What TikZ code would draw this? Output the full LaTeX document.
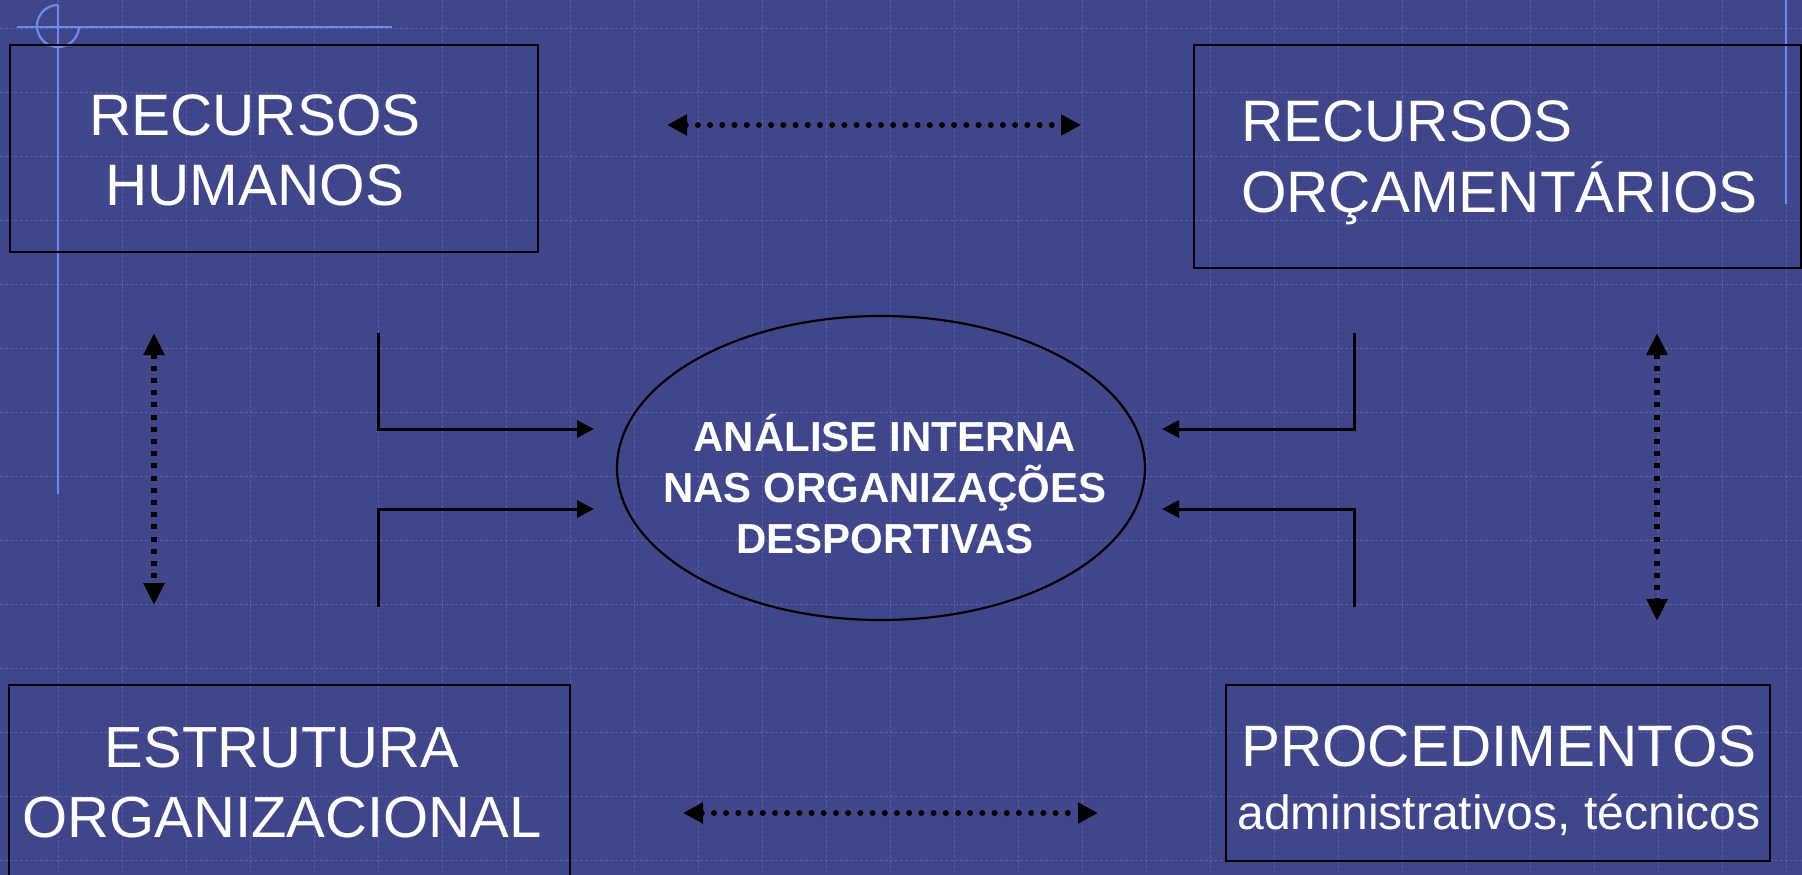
\documentclass[tikz,border=0pt]{standalone}
\usepackage{fontspec}
\setmainfont{Liberation Sans}
\usetikzlibrary{arrows.meta,shapes.geometric}
\definecolor{bgc}{HTML}{41468B}
\definecolor{gridc}{HTML}{575FB3}
\definecolor{decoc}{HTML}{6A8CF0}
\begin{document}
\begin{tikzpicture}[x=1pt,y=-1pt,
  gridline/.style={draw=gridc,line width=0.9pt,dash pattern=on 3pt off 2pt},
  decoline/.style={draw=decoc,line width=2.2pt},
  boxnode/.style={draw=black,line width=2.5pt,rectangle,inner sep=0pt},
  bigtxt/.style={text=white,inner sep=0pt,font=\fontsize{58.5}{68}\selectfont},
  conn/.style={draw=black,line width=3pt,-{Triangle[length=17pt,width=17pt]}},
  hdots/.style={draw=black,line width=6pt,line cap=round,dash pattern=on 0pt off 12.2pt,
     {Triangle[length=20pt,width=20pt]}-{Triangle[length=20pt,width=20pt]}},
  vdots/.style={draw=black,line width=6pt,dash pattern=on 5pt off 7.2pt,
     {Triangle[length=22pt,width=20pt]}-{Triangle[length=22pt,width=20pt]}}
]
\useasboundingbox (0,0) rectangle (1802,875);
\begin{scope}
\clip (0,0) rectangle (1802,875);
\fill[bgc] (0,0) rectangle (1802,875);
% grid
\foreach \gx in {58,122,...,1802} \draw[gridline] (\gx,0) -- (\gx,875);
\foreach \gy in {28,92,...,875} \draw[gridline] (0,\gy) -- (1802,\gy);
% decoration
\draw[decoline] (17,27) -- (392,27);
\draw[decoline] (58,5) -- (58,494);
\draw[decoline] (58,5) arc[start angle=270,end angle=0,radius=21];
\draw[decoline] (1786,0) -- (1786,204);

% boxes
\node[boxnode,minimum width=528pt,minimum height=207pt] (rh) at (274,148.5) {};
\node[bigtxt,align=center,font=\fontsize{58.5}{70}\selectfont] (rht) at (255,150) {RECURSOS\\HUMANOS};

\node[boxnode,minimum width=607pt,minimum height=223pt] (ro) at (1497.5,156.5) {};
\node[bigtxt,align=left,anchor=west,font=\fontsize{58.5}{71}\selectfont] (rot) at (1241,163) {RECURSOS\\ORÇAMENTÁRIOS};

\node[boxnode,minimum width=561pt,minimum height=200pt] (eo) at (289.5,785) {};
\node[bigtxt,align=center,font=\fontsize{58}{70}\selectfont] (eot) at (282,783) {ESTRUTURA\\ORGANIZACIONAL};

\node[boxnode,minimum width=544pt,minimum height=176pt] (pr) at (1498,773) {};
\node[text=white,inner sep=0pt,align=center,font=\fontsize{48}{63}\selectfont] (prt) at (1499,781)
  {{\fontsize{58.5}{63}\selectfont PROCEDIMENTOS}\\administrativos, técnicos};

% ellipse
\node[draw=black,line width=2.2pt,ellipse,minimum width=528pt,minimum height=304pt,inner sep=0pt] (an) at (881,468) {};
\node[text=white,inner sep=0pt,align=center,font=\fontsize{42}{51}\selectfont\bfseries] (ant) at (885,484)
  {ANÁLISE INTERNA\\NAS ORGANIZAÇÕES\\DESPORTIVAS};

% coordinates
\coordinate (ht1) at (667,125);  \coordinate (ht2) at (1081,125);
\coordinate (hb1) at (683,813);  \coordinate (hb2) at (1098,813);
\coordinate (vl1) at (154,333);  \coordinate (vl2) at (154,605);
\coordinate (vr1) at (1657,333); \coordinate (vr2) at (1657,621);
\coordinate (la1) at (378,333);  \coordinate (la2) at (594,429);
\coordinate (lb1) at (378,607);  \coordinate (lb2) at (594,509);
\coordinate (ra1) at (1354,333); \coordinate (ra2) at (1162,429);
\coordinate (rb1) at (1354,607); \coordinate (rb2) at (1162,509);

% dotted double arrows
\draw[hdots] (ht1) -- (ht2);
\draw[hdots] (hb1) -- (hb2);
\draw[vdots] (vl1) -- (vl2);
\draw[vdots] (vr1) -- (vr2);

% L connectors
\draw[conn] (la1) |- (la2);
\draw[conn] (lb1) |- (lb2);
\draw[conn] (ra1) |- (ra2);
\draw[conn] (rb1) |- (rb2);
\end{scope}
\end{tikzpicture}
\end{document}
